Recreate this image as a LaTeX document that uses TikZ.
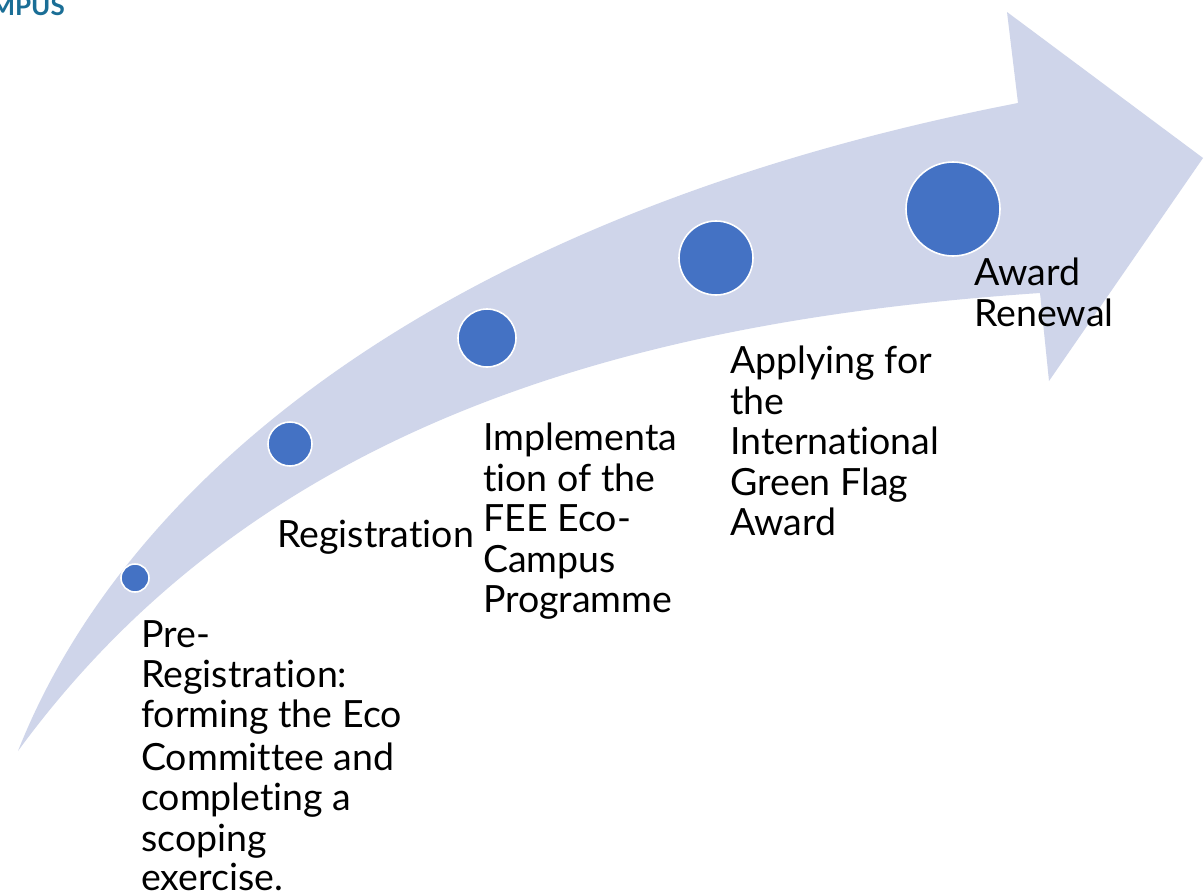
\documentclass[tikz,border=0pt]{standalone}
\usepackage{fontspec}
\setmainfont[Ligatures=NoCommon]{Lato}
\definecolor{arrowfill}{HTML}{CFD5EA}
\definecolor{dotblue}{HTML}{4472C4}
\definecolor{logoteal}{HTML}{1A6E96}
\tikzset{
  dot/.style={circle,fill=dotblue,draw=white,line width=1.6pt,inner sep=0pt},
  lbl/.style={anchor=north west,inner sep=0pt,align=left,font=\fontsize{37.5pt}{40.4pt}\selectfont,text=black}
}
\begin{document}
\begin{tikzpicture}[x=1pt,y=-1pt]
\useasboundingbox (0,0) rectangle (1204,894);
\fill[white] (0,0) rectangle (1204,894);
\fill[arrowfill] (18,751) .. controls (125,480) and (440,215) .. (1018,103) -- (1007,12) -- (1203,158) -- (1049,381) -- (1040,293) .. controls (640,320) and (260,420) .. (18,751) -- cycle;
\node[dot,minimum size=28pt] (d1) at (135,578) {};
\node[dot,minimum size=44pt] (d2) at (290,444) {};
\node[dot,minimum size=58pt] (d3) at (487,338) {};
\node[dot,minimum size=74pt] (d4) at (716,258) {};
\node[dot,minimum size=94pt] (d5) at (953,209) {};
\node[lbl] (t1) at (141,620) {Pre-\\Registration:\\forming the Eco\\[2pt]Committee and\\completing a\\scoping\\[-1pt]exercise.};
\node[lbl] (t2) at (277,520) {Registration};
\node[lbl] (t3) at (483,423) {Implementa\\tion of the\\FEE Eco-\\Campus\\Programme};
\node[lbl] (t4) at (730,346) {Applying for\\the\\International\\Green Flag\\Award};
\node[lbl] (t5) at (974,258) {Award\\Renewal};
\node[anchor=base east,inner sep=0pt,font=\bfseries\fontsize{26pt}{26pt}\selectfont,text=logoteal] (logo) at (65,15) {MPUS};
\end{tikzpicture}
\end{document}
